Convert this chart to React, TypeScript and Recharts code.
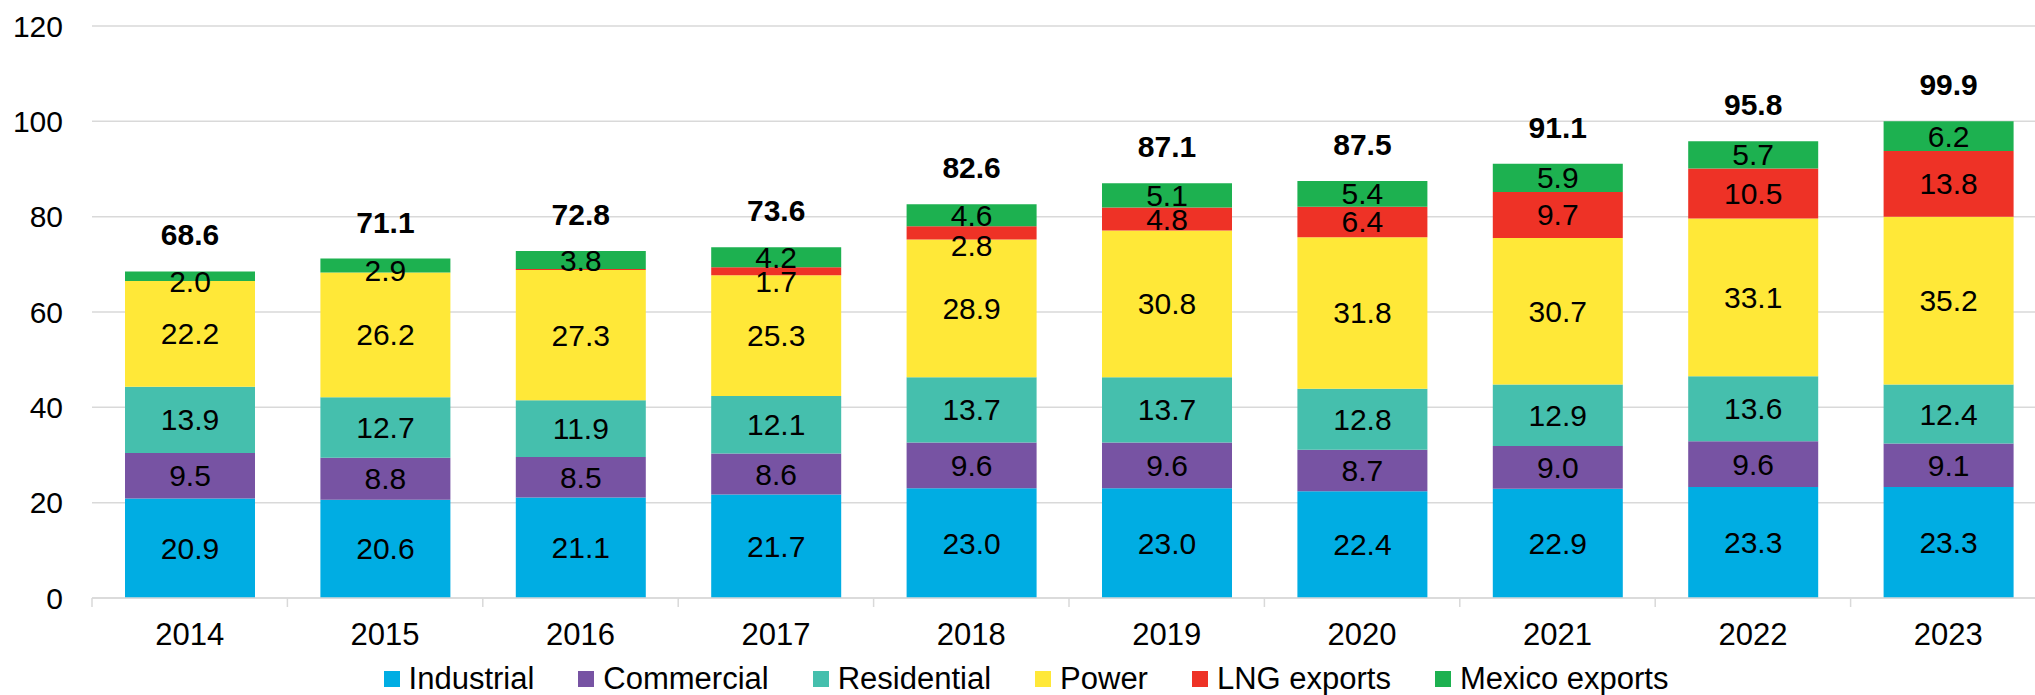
import React from "react";
import { BarChart, Bar, XAxis, YAxis, CartesianGrid, LabelList } from "recharts";

const years = ["2014", "2015", "2016", "2017", "2018", "2019", "2020", "2021", "2022", "2023"];
const industrial = [20.9, 20.6, 21.1, 21.7, 23.0, 23.0, 22.4, 22.9, 23.3, 23.3];
const commercial = [9.5, 8.8, 8.5, 8.6, 9.6, 9.6, 8.7, 9.0, 9.6, 9.1];
const residential = [13.9, 12.7, 11.9, 12.1, 13.7, 13.7, 12.8, 12.9, 13.6, 12.4];
const power = [22.2, 26.2, 27.3, 25.3, 28.9, 30.8, 31.8, 30.7, 33.1, 35.2];
const lngExports = [0, 0, 0.2, 1.7, 2.8, 4.8, 6.4, 9.7, 10.5, 13.8];
const mexicoExports = [2.0, 2.9, 3.8, 4.2, 4.6, 5.1, 5.4, 5.9, 5.7, 6.2];
const totals = [68.6, 71.1, 72.8, 73.6, 82.6, 87.1, 87.5, 91.1, 95.8, 99.9];
const yTicks = [0, 20, 40, 60, 80, 100, 120];

const seriesInfo = [
  { key: "industrial", name: "Industrial", color: "#00ADE3" },
  { key: "commercial", name: "Commercial", color: "#7753A3" },
  { key: "residential", name: "Residential", color: "#45BFAD" },
  { key: "power", name: "Power", color: "#FFE838" },
  { key: "lng", name: "LNG exports", color: "#EE3226" },
  { key: "mexico", name: "Mexico exports", color: "#1DB150" },
];

const data = years.map((year, i) => ({
  year,
  industrial: industrial[i],
  commercial: commercial[i],
  residential: residential[i],
  power: power[i],
  lng: lngExports[i],
  mexico: mexicoExports[i],
  total: totals[i],
}));

const FONT = "'Liberation Sans', Arial, sans-serif";

const geom = (props: any) => {
  const vb = props.viewBox || {};
  const x = Number(props.x ?? vb.x);
  const y = Number(props.y ?? vb.y);
  const width = Number(props.width ?? vb.width);
  const height = Number(props.height ?? vb.height);
  return { x, y, width, height };
};

const makeSegLabel = (kind: string) => (props: any) => {
  const { x, y, width, height } = geom(props);
  const v = Number(props.value);
  if (!(v >= 1)) return null;
  let cy = y + height / 2;
  if (kind === "lng" && height < 20) cy = y + height + 6;
  if (kind === "mexico" && height < 16) cy = y + height / 2 + 5;
  return (
    <text
      x={x + width / 2}
      y={cy + 10.5}
      textAnchor="middle"
      fontFamily={FONT}
      fontSize={30}
      fill="#000"
    >
      {v.toFixed(1)}
    </text>
  );
};

const TotalLabel = (props: any) => {
  const { x, y, width } = geom(props);
  const v = Number(props.value);
  return (
    <text
      x={x + width / 2}
      y={y - 26}
      textAnchor="middle"
      fontFamily={FONT}
      fontSize={30}
      fontWeight="bold"
      fill="#000"
    >
      {v.toFixed(1)}
    </text>
  );
};

const XTick = (props: any) => {
  const { x, y, payload, index } = props;
  const half = payload && typeof payload.offset === "number" && payload.offset > 0 ? payload.offset : 97.7;
  return (
    <g>
      <line x1={x - half} x2={x - half} y1={y} y2={y + 9} stroke="#d9d9d9" strokeWidth={1.5} />
      {index === years.length - 1 ? (
        <line x1={x + half} x2={x + half} y1={y} y2={y + 9} stroke="#d9d9d9" strokeWidth={1.5} />
      ) : null}
      <text x={x} y={y + 47} textAnchor="middle" fontFamily={FONT} fontSize={31} fill="#000">
        {payload.value}
      </text>
    </g>
  );
};

export default function App() {
  return (
    <div
      style={{
        position: "absolute",
        left: 0,
        top: 0,
        width: 2035,
        height: 695,
        overflow: "hidden",
        background: "#fff",
      }}
    >
      <BarChart
        width={2046}
        height={695}
        data={data}
        margin={{ top: 26, right: 0, left: 0, bottom: 0 }}
      >
        <CartesianGrid vertical={false} stroke="#d9d9d9" strokeWidth={1.5} />
        <XAxis
          dataKey="year"
          height={97}
          axisLine={{ stroke: "#d9d9d9", strokeWidth: 1.5 }}
          tickLine={false}
          tickSize={0}
          tickMargin={0}
          tick={<XTick />}
          interval={0}
        />
        <YAxis
          width={92}
          domain={[0, 120]}
          ticks={yTicks}
          axisLine={false}
          tickLine={false}
          tickSize={0}
          tickMargin={29}
          tick={{ fontFamily: FONT, fontSize: 30, fill: "#000" }}
        />
        {seriesInfo.map((s) => (
          <Bar
            key={s.key}
            dataKey={s.key}
            name={s.name}
            stackId="a"
            fill={s.color}
            barSize={130}
            isAnimationActive={false}
          >
            <LabelList dataKey={s.key} content={makeSegLabel(s.key)} />
            {s.key === "mexico" ? <LabelList dataKey="total" content={TotalLabel} /> : null}
          </Bar>
        ))}
      </BarChart>
      <div
        style={{
          position: "absolute",
          left: 0,
          top: 660,
          width: 2052,
          display: "flex",
          justifyContent: "center",
          alignItems: "center",
          fontFamily: FONT,
          fontSize: 31,
          color: "#000",
          lineHeight: "38px",
        }}
      >
        {seriesInfo.map((s, i) => (
          <div
            key={s.key}
            style={{ display: "flex", alignItems: "center", marginLeft: i === 0 ? 0 : 44 }}
          >
            <span
              style={{ display: "inline-block", width: 16, height: 16, background: s.color, marginRight: 9 }}
            />
            <span>{s.name}</span>
          </div>
        ))}
      </div>
    </div>
  );
}
